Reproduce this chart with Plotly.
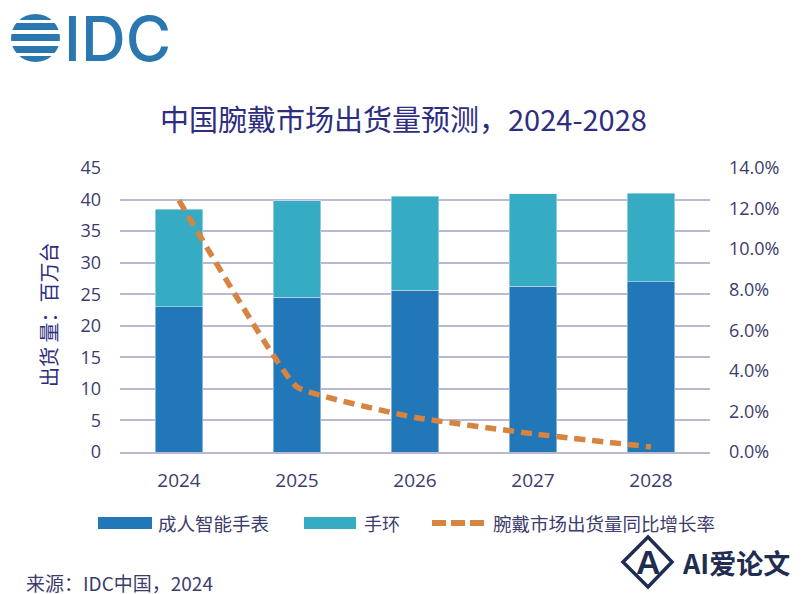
import plotly.graph_objects as go

years = ["2024", "2025", "2026", "2027", "2028"]
smartwatch = [23.0, 24.5, 25.6, 26.3, 27.0]
band = [15.5, 15.3, 14.9, 14.6, 14.0]
growth = [12.4, 3.2, 1.7, 0.9, 0.25]

left_ticks = [0, 5, 10, 15, 20, 25, 30, 35, 40, 45]
right_ticks = [0, 2, 4, 6, 8, 10, 12, 14]

# the page has an 8px body margin, so the figure is smaller than the window
OFFSET = 8
W = 807 - OFFSET
H = 594 - OFFSET
FONT = "Noto Sans CJK SC"
TEXT = "#3c3c6e"
NAVY = "#2e2e80"
BLUE = "#2277b8"
TEAL = "#36abc4"
ORANGE = "#d6843f"
LOGO = "#2b78b0"
MARK = "#1f2d50"


def px(x):
    return (x - OFFSET) / W


def py(y):
    return 1 - (y - OFFSET) / H


def label(x, y, text, size=16, color=TEXT, anchor="left", family=FONT):
    return dict(x=px(x), y=py(y), xref="paper", yref="paper", text=text, showarrow=False,
                xanchor=anchor, yanchor="middle", font=dict(size=size, color=color, family=family))


def box(x0, x1, y0, y1, color, kind="rect"):
    return dict(type=kind, xref="paper", yref="paper", x0=px(x0), x1=px(x1), y0=py(y1), y1=py(y0),
                fillcolor=color, line_width=0)


fig = go.Figure()
fig.add_trace(go.Bar(x=years, y=smartwatch, name="成人智能手表", marker_color=BLUE, width=0.4))
fig.add_trace(go.Bar(x=years, y=band, name="手环", marker_color=TEAL, width=0.4))
fig.add_trace(go.Scatter(x=years, y=growth, name="腕戴市场出货量同比增长率", yaxis="y2", mode="lines",
                         line=dict(color=ORANGE, width=5.5, dash="11px,7px", shape="spline", smoothing=0.3)))

# legend swatches
shapes = [
    box(98, 152, 517, 529, BLUE),
    box(304, 356, 517, 529, TEAL),
    dict(type="line", xref="paper", yref="paper", x0=px(432), x1=px(486), y0=py(523), y1=py(523),
         line=dict(color=ORANGE, width=6, dash="14px,5px")),
]

# logo globe: a disc cut by white bands
shapes.append(box(11, 60, 14, 62, LOGO, kind="circle"))
for y0, y1 in [(20, 23), (30, 34), (41, 46), (53, 56)]:
    shapes.append(box(9, 62, y0, y1, "#ffffff"))

# watermark diamond
shapes.append(dict(type="path", xref="paper", yref="paper",
                   path=f"M {px(648)} {py(537)} L {px(672)} {py(562)} L {px(648)} {py(587)} L {px(623)} {py(562)} Z",
                   line=dict(color=MARK, width=3.5), fillcolor="rgba(255,255,255,0)"))

source = label(24, 582, "来源：IDC中国，2024", size=19)
source["height"] = 24

annotations = [
    label(403, 118, "中国腕戴市场出货量预测，2024-2028", size=29, color=NAVY, anchor="center"),
    label(48, 315, "出货 量：百万台", size=20, color=NAVY, anchor="center"),
    label(156, 523, "成人智能手表", size=18.5),
    label(362, 523, "手环", size=18),
    label(491, 523, "腕戴市场出货量同比增长率", size=18.5),
    source,
    label(648, 562, "<b>A</b>", size=34, color=MARK, anchor="center", family="Liberation Sans"),
    label(680, 562, "<b>AI爱论文</b>", size=27, color=MARK),
]
annotations[1]["textangle"] = -90

# the logo letters: box held to the page top so the big font is not cut
logo_text = label(62, 38, "IDC", size=62, color=LOGO, family="Inter")
logo_text["font"]["weight"] = 500
logo_text["height"] = 54
annotations.append(logo_text)

fig.update_layout(
    width=W,
    height=H,
    barmode="stack",
    showlegend=False,
    paper_bgcolor="#ffffff",
    plot_bgcolor="#ffffff",
    margin=dict(l=0, r=0, t=0, b=0, autoexpand=False),
    font=dict(family=FONT, color=TEXT, size=16),
    xaxis=dict(domain=[px(120), px(710)], showgrid=False, linecolor="#b9b9d2", linewidth=2, ticks="",
               ticklabelstandoff=10, tickfont=dict(size=19, family="Open Sans")),
    yaxis=dict(domain=[py(452), py(168)], range=[0, 45], tickvals=left_ticks, gridcolor="#b9b9d2", gridwidth=1.5,
               zeroline=False, ticks="", ticklabelstandoff=18, tickfont=dict(size=18, family="Open Sans")),
    yaxis2=dict(domain=[py(452), py(168)], range=[0, 14], tickvals=right_ticks,
                ticktext=[f"{v:.1f}%" for v in right_ticks],
                overlaying="y", side="right", anchor="x", showgrid=False, zeroline=False, ticks="",
                ticklabelstandoff=18, tickfont=dict(size=18, family="Open Sans")),
    shapes=shapes,
    annotations=annotations,
)

fig.write_html("out.html")
